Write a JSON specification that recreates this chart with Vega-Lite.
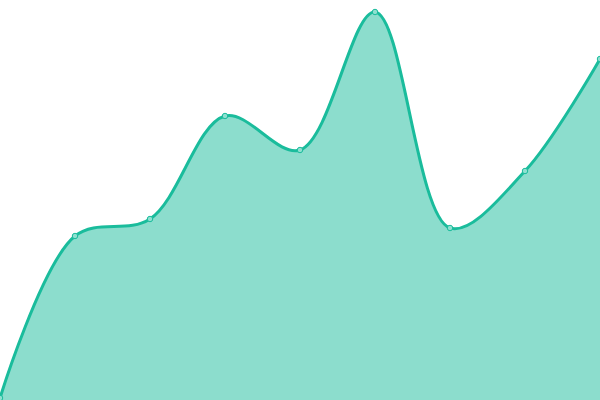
{
  "$schema": "https://vega.github.io/schema/vega-lite/v6.json",
  "width": 600,
  "height": 400,
  "padding": 0,
  "autosize": {"type": "none"},
  "data": {
    "values": [
      {"i": 0, "v": 2},
      {"i": 1, "v": 164},
      {"i": 2, "v": 181},
      {"i": 3, "v": 284},
      {"i": 4, "v": 250},
      {"i": 5, "v": 388},
      {"i": 6, "v": 172},
      {"i": 7, "v": 229},
      {"i": 8, "v": 341}
    ]
  },
  "encoding": {
    "x": {"field": "i", "type": "quantitative", "scale": {"domain": [0, 8], "nice": false, "zero": false}, "axis": null},
    "y": {"field": "v", "type": "quantitative", "scale": {"domain": [0, 400], "nice": false}, "axis": null}
  },
  "layer": [
    {
      "mark": {"type": "area", "interpolate": "catmull-rom", "color": "#1abc9c", "fillOpacity": 0.5}
    },
    {
      "mark": {"type": "line", "interpolate": "catmull-rom", "color": "#1abc9c", "strokeWidth": 3}
    },
    {
      "mark": {"type": "point", "filled": true, "size": 30, "fill": "#8ee0d0", "stroke": "#1abc9c", "strokeWidth": 1, "opacity": 1}
    }
  ],
  "config": {"view": {"stroke": null}}
}
